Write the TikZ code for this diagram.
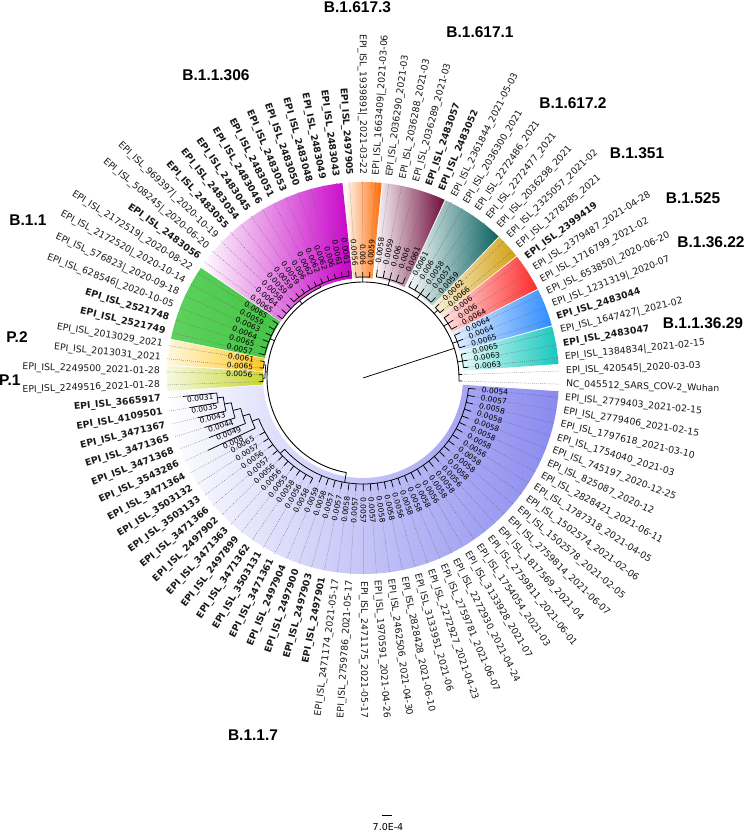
\documentclass[tikz,border=0pt]{standalone}
\usepackage{fontspec}
\setmainfont{DejaVu Sans}
\newfontfamily\cladefont{Liberation Sans}
\usetikzlibrary{calc}
\definecolor{cBlue7}{HTML}{8A8AF0}
\definecolor{cPone}{HTML}{C8D62E}
\definecolor{cPtwo}{HTML}{FFC824}
\definecolor{cGreen}{HTML}{44C444}
\definecolor{cGreenL}{HTML}{5ED25E}
\definecolor{cMag}{HTML}{C800C8}
\definecolor{cOrange}{HTML}{FF6A00}
\definecolor{cMaroon}{HTML}{6E0A3C}
\definecolor{cTeal}{HTML}{0B6262}
\definecolor{cGold}{HTML}{D4A010}
\definecolor{cRed}{HTML}{FF2A2A}
\definecolor{cSky}{HTML}{2F8CFF}
\definecolor{cCyan}{HTML}{14C8BE}
\newcommand\LA[1]{\fpeval{-1.8-((#1)-1)*360/94}}
\newcommand\cladewedge[4]{%
 \edef\wa{\fpeval{-1.8-(#1-1)*360/94+1.75}}%
 \edef\wb{\fpeval{-1.8-(#2-1)*360/94-1.75}}%
 \shade[left color=#3,right color=#4] (\wa:100pt) arc[start angle=\wa,end angle=\wb,radius=100pt] -- (\wb:196pt) arc[start angle=\wb,end angle=\wa,radius=196pt] -- cycle;}
\newcommand\carc[3]{\edef\ca{\LA{#2}}\edef\cb{\LA{#3}}\draw[branch] (\ca:#1pt) arc[start angle=\ca,end angle=\cb,radius=#1pt];}
\newcommand\clink[3]{\edef\cc{\LA{#1}}\draw[branch] (\cc:#2pt) -- (\cc:#3pt);}
\begin{document}
\begin{tikzpicture}[x=1pt,y=1pt,
 branch/.style={line width=0.75pt,black},
 dots/.style={black!60,line width=0.4pt,dash pattern=on 0.7pt off 1.3pt},
 leaflab/.style={font=\fontsize{9.3}{10}\selectfont,inner sep=0pt,text=black!90},
 numlab/.style={font=\fontsize{7.5}{8}\selectfont,inner sep=0.3pt},
 cladelab/.style={font=\cladefont\bfseries\fontsize{15.5}{16}\selectfont,inner sep=0pt}]
\useasboundingbox (-363,-454) rectangle (382,378);
% coloured clade ranges
\cladewedge{2}{46}{white}{cBlue7}
\cladewedge{47}{48}{cPone!15}{cPone}
\cladewedge{49}{50}{cPtwo!15}{cPtwo}
\cladewedge{51}{56}{cGreenL}{cGreen}
\cladewedge{57}{69}{white}{cMag}
\cladewedge{70}{72}{white}{cOrange}
\cladewedge{73}{77}{white}{cMaroon}
\cladewedge{78}{82}{white}{cTeal}
\cladewedge{83}{84}{cGold!15}{cGold}
\cladewedge{85}{87}{cRed!12}{cRed}
\cladewedge{88}{90}{cSky!12}{cSky}
\cladewedge{91}{93}{cCyan!10}{cCyan}
% root and backbone
\coordinate (root) at (0,0);
\coordinate (rootj) at (18:96pt);
\draw[branch] (root) -- (rootj);
\draw[branch,line width=0.9pt] (-1.8:96pt) arc[start angle=-1.8,end angle=260,radius=96pt];
% small clades
\carc{101}{91}{93}\clink{92}{96}{101}
\carc{101}{88}{90}\clink{89}{96}{101}
\carc{101}{85}{87}\clink{86}{96}{101}
\carc{101}{83}{84}\clink{83.5}{96}{101}
\carc{102}{78}{82}\clink{80}{96}{102}
\carc{102}{73}{77}\clink{75}{96}{102}
\carc{101}{70}{72}\clink{71}{96}{101}
\carc{103}{60}{69}\clink{64.5}{100}{103}
\carc{100}{57}{64.5}\clink{60.75}{96}{100}
\carc{101}{51}{56}\clink{53.5}{96}{101}
\carc{100}{49}{50}\carc{100}{47}{48}
\clink{49.5}{98}{100}\clink{47.5}{98}{100}
\carc{98}{47.5}{49.5}\clink{48.5}{96}{98}
% B.1.1.7
\carc{147}{45}{46}\clink{45.5}{141}{147}
\carc{141}{44}{45.5}\clink{44.75}{134}{141}
\carc{134}{43}{44.75}\clink{43.875}{126}{134}
\carc{126}{42}{43.875}\clink{42.9375}{119}{126}
\carc{119}{41}{42.9375}\clink{41.96875}{112}{119}
\carc{112}{31}{41.96875}\clink{36.484375}{106}{112}
\carc{106}{2}{36.484375}\clink{26.64}{96}{106}
% leaves
\foreach \li/\lbase/\ltip/\lnt/\lnum/\lb/\ltxt in {
1/96/99/0/-/0/{NC\_045512\_SARS\_COV-2\_Wuhan},
2/106/113/1/0.0054/0/{EPI\_ISL\_2779403\_2021-02-15},
3/106/113/1/0.0057/0/{EPI\_ISL\_2779406\_2021-02-15},
4/106/113/1/0.0058/0/{EPI\_ISL\_1797618\_2021-03-10},
5/106/113/1/0.0058/0/{EPI\_ISL\_1754040\_2021-03},
6/106/113/1/0.0058/0/{EPI\_ISL\_745197\_2020-12-25},
7/106/113/1/0.0058/0/{EPI\_ISL\_825087\_2020-12},
8/106/113/1/0.0058/0/{EPI\_ISL\_2828421\_2021-06-11},
9/106/113/1/0.0056/0/{EPI\_ISL\_1787318\_2021-04-05},
10/106/113/1/0.0058/0/{EPI\_ISL\_1502574\_2021-02-06},
11/106/113/1/0.0058/0/{EPI\_ISL\_1502578\_2021-02-05},
12/106/113/1/0.0058/0/{EPI\_ISL\_2759814\_2021-06-07},
13/106/113/1/0.0056/0/{EPI\_ISL\_1817569\_2021-04},
14/106/113/1/0.0058/0/{EPI\_ISL\_2759811\_2021-06-01},
15/106/113/1/0.0058/0/{EPI\_ISL\_1754054\_2021-03},
16/106/113/1/0.0056/0/{EPI\_ISL\_3133928\_2021-07},
17/106/113/1/0.0058/0/{EPI\_ISL\_2272930\_2021-04-24},
18/106/113/1/0.0058/0/{EPI\_ISL\_2759781\_2021-06-07},
19/106/113/1/0.0058/0/{EPI\_ISL\_2272927\_2021-04-23},
20/106/113/1/0.0056/0/{EPI\_ISL\_3133951\_2021-06},
21/106/113/1/0.0058/0/{EPI\_ISL\_2828428\_2021-06-10},
22/106/113/1/0.0058/0/{EPI\_ISL\_2462506\_2021-04-30},
23/106/113/1/0.0057/0/{EPI\_ISL\_1970591\_2021-04-26},
24/106/113/1/0.0057/0/{EPI\_ISL\_2471175\_2021-05-17},
25/106/113/1/0.0057/0/{EPI\_ISL\_2759786\_2021-05-17},
26/106/113/1/0.0058/0/{EPI\_ISL\_2471174\_2021-05-17},
27/106/113/1/0.0057/1/{EPI\_ISL\_2497901},
28/106/113/1/0.0057/1/{EPI\_ISL\_2497903},
29/106/113/1/0.0058/1/{EPI\_ISL\_2497900},
30/106/113/1/0.0059/1/{EPI\_ISL\_2497904},
31/112/118/1/0.0058/1/{EPI\_ISL\_3471361},
32/112/118/1/0.0056/1/{EPI\_ISL\_3503131},
33/112/118/1/0.0058/1/{EPI\_ISL\_3471362},
34/112/118/1/0.0055/1/{EPI\_ISL\_2497899},
35/112/118/1/0.0056/1/{EPI\_ISL\_3471363},
36/112/118/1/0.0056/1/{EPI\_ISL\_2497902},
37/112/118/1/0.0057/1/{EPI\_ISL\_3471366},
38/112/118/1/0.0056/1/{EPI\_ISL\_3503133},
39/112/118/1/0.0057/1/{EPI\_ISL\_3503132},
40/112/118/1/0.0065/1/{EPI\_ISL\_3471364},
41/119/171/2/0.008/1/{EPI\_ISL\_3543286},
42/126/165/2/0.0049/1/{EPI\_ISL\_3471368},
43/134/166/2/0.0044/1/{EPI\_ISL\_3471365},
44/141/170/2/0.0043/1/{EPI\_ISL\_3471367},
45/147/176/2/0.0035/1/{EPI\_ISL\_4109501},
46/147/181/2/0.0031/1/{EPI\_ISL\_3665917},
47/100/104/0/-/0/{EPI\_ISL\_2249516\_2021-01-28},
48/100/104/1/0.0056/0/{EPI\_ISL\_2249500\_2021-01-28},
49/100/104/1/0.0065/0/{EPI\_ISL\_2013031\_2021},
50/100/104/1/0.0061/0/{EPI\_ISL\_2013029\_2021},
51/101/107/1/0.0057/1/{EPI\_ISL\_2521749},
52/101/107/1/0.0065/1/{EPI\_ISL\_2521748},
53/101/107/1/0.0064/0/{EPI\_ISL\_628546|\_2020-10-05},
54/101/107/1/0.0063/0/{EPI\_ISL\_576823|\_2020-09-18},
55/101/107/1/0.0059/0/{EPI\_ISL\_2172520|\_2020-10-14},
56/101/107/1/0.0065/0/{EPI\_ISL\_2172519|\_2020-08-22},
57/100/106/1/0.0065/1/{EPI\_ISL\_2483056},
58/100/106/1/0.0064/0/{EPI\_ISL\_508245|\_2020-06-20},
59/100/106/1/0.0058/0/{EPI\_ISL\_969397|\_2020-10-19},
60/103/108/1/0.0059/1/{EPI\_ISL\_2483055},
61/103/108/1/0.0059/1/{EPI\_ISL\_2483054},
62/103/108/1/0.0059/1/{EPI\_ISL\_2483045},
63/103/108/1/0.006/1/{EPI\_ISL\_2483046},
64/103/108/1/0.0062/1/{EPI\_ISL\_2483051},
65/103/108/1/0.0062/1/{EPI\_ISL\_2483053},
66/103/108/1/0.0062/1/{EPI\_ISL\_2483050},
67/103/108/1/0.006/1/{EPI\_ISL\_2483048},
68/103/108/1/0.0061/1/{EPI\_ISL\_2483049},
69/103/108/1/0.0061/1/{EPI\_ISL\_2483043},
70/101/106/1/0.0056/1/{EPI\_ISL\_2497905},
71/101/106/1/0.006/0/{EPI\_ISL\_1939891|\_2021-03-22},
72/101/106/1/0.0059/0/{EPI\_ISL\_1663409|\_2021-03-06},
73/102/109/1/0.0058/0/{EPI\_ISL\_2036290\_2021-03},
74/102/109/1/0.0059/0/{EPI\_ISL\_2036288\_2021-03},
75/102/109/1/0.006/0/{EPI\_ISL\_2036289\_2021-03},
76/102/109/1/0.006/1/{EPI\_ISL\_2483057},
77/102/109/1/0.0061/1/{EPI\_ISL\_2483052},
78/102/108/1/0.0061/0/{EPI\_ISL\_2361844\_2021-05-03},
79/102/108/1/0.006/0/{EPI\_ISL\_2036300\_2021},
80/102/108/1/0.0058/0/{EPI\_ISL\_2272486\_2021},
81/102/108/1/0.0057/0/{EPI\_ISL\_2272477\_2021},
82/102/108/1/0.0059/0/{EPI\_ISL\_2036298\_2021},
83/101/106/1/0.0062/0/{EPI\_ISL\_2325057\_2021-02},
84/101/106/1/0.0066/0/{EPI\_ISL\_1278285\_2021},
85/101/107/1/0.006/1/{EPI\_ISL\_2399419},
86/101/107/1/0.006/0/{EPI\_ISL\_2379487\_2021-04-28},
87/101/107/1/0.0064/0/{EPI\_ISL\_1716799\_2021-02},
88/101/107/1/0.0064/0/{EPI\_ISL\_653850|\_2020-06-20},
89/101/107/1/0.0064/0/{EPI\_ISL\_1231319|\_2020-07},
90/101/107/1/0.0065/1/{EPI\_ISL\_2483044},
91/101/106/1/0.0065/0/{EPI\_ISL\_1647427|\_2021-02},
92/101/106/1/0.0063/1/{EPI\_ISL\_2483047},
93/101/106/1/0.0063/0/{EPI\_ISL\_1384834|\_2021-02-15},
94/96/99/0/-/0/{EPI\_ISL\_420545|\_2020-03-03}}{
 \pgfmathsetmacro\la{-1.8-(\li-1)*3.8297872}
 \pgfmathsetmacro\lnn{\la < -180 ? \la+360 : \la}
 \pgfmathtruncatemacro\lrs{((\lnn > -90) && (\lnn < 90.05)) ? 1 : 0}
 \pgfmathsetmacro\lnr{\ltip+6}
 \pgfmathsetmacro\lmid{(\lbase+\ltip)/2}
 \draw[dots] (\la:\ltip pt) -- (\la:197pt);
 \draw[branch] (\la:\lbase pt) -- (\la:\ltip pt);
 \ifnum\lrs=1
  \node[leaflab,anchor=west,rotate=\lnn] (L\li) at (\la:203pt) {\ifnum\lb=1 \bfseries\fi\ltxt};
  \ifnum\lnt=1 \node[numlab,anchor=west,rotate=\lnn] (N\li) at (\la:\lnr pt) {\lnum};\fi
  \ifnum\lnt=2 \node[numlab,anchor=north,rotate=\lnn] (N\li) at (\la:\lmid pt) {\lnum};\fi
 \else
  \node[leaflab,anchor=east,rotate=\lnn+180] (L\li) at (\la:203pt) {\ifnum\lb=1 \bfseries\fi\ltxt};
  \ifnum\lnt=1 \node[numlab,anchor=east,rotate=\lnn+180] (N\li) at (\la:\lnr pt) {\lnum};\fi
  \ifnum\lnt=2 \node[numlab,anchor=north,rotate=\lnn+180] (N\li) at (\la:\lmid pt) {\lnum};\fi
 \fi
}
% clade names
\node[cladelab] (cA) at (-5.5,371) {B.1.617.3};
\node[cladelab] (cB) at (117,346) {B.1.617.1};
\node[cladelab] (cC) at (210,275) {B.1.617.2};
\node[cladelab] (cD) at (274,225) {B.1.351};
\node[cladelab] (cE) at (330,180) {B.1.525};
\node[cladelab] (cF) at (348,136) {B.1.36.22};
\node[cladelab] (cG) at (340,55) {B.1.1.36.29};
\node[cladelab] (cH) at (-147,303) {B.1.1.306};
\node[cladelab] (cI) at (-335,158) {B.1.1};
\node[cladelab] (cJ) at (-346,41) {P.2};
\node[cladelab,anchor=west] (cK) at (-364,-2) {P.1};
\node[cladelab] (cL) at (-110,-357) {B.1.1.7};
% scale bar
\coordinate (sb1) at (19,-437);
\coordinate (sb2) at (29,-437);
\draw[line width=0.6pt] (sb1) -- (sb2);
\node[font=\fontsize{9.5}{10}\selectfont] (sbl) at (25,-449) {7.0E-4};
\end{tikzpicture}
\end{document}
